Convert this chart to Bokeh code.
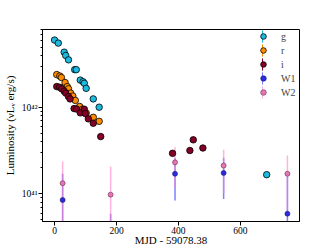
import numpy as np
from bokeh.plotting import figure
from bokeh.models import (Range1d, FixedTicker, CustomJSTickFormatter, Legend,
                          LegendItem, ColumnDataSource)
from bokeh.embed import file_html
from bokeh.resources import INLINE

# ---------------- data (MJD - 59078.38, luminosity erg/s) ----------------
g_t = [0, 12, 31, 36, 45, 65, 70, 83, 92, 96, 102, 125, 144, 685]
g_L = [6.05e42, 5.58e42, 4.38e42, 4.01e42, 3.57e42, 2.75e42, 2.75e42, 2.08e42,
       1.99e42, 1.91e42, 1.67e42, 1.26e42, 1.01e42, 1.67e41]
g_err = [0.0] * len(g_t)

r_t = [7, 17, 22, 34, 41, 45, 52, 59, 67, 81, 91, 102, 125, 144]
r_L = [2.41e42, 2.32e42, 2.23e42, 1.95e42, 1.75e42, 1.65e42, 1.47e42, 1.36e42,
       1.21e42, 1.03e42, 9.6e41, 8.64e41, 7.72e41, 6.93e41]
r_err = [0.0] * len(r_t)

i_t = [7, 16, 23, 31, 36, 45, 50, 63, 71, 83, 96, 99, 109, 125, 149,
       381, 437, 448, 479]
i_L = [1.75e42, 1.72e42, 1.65e42, 1.55e42, 1.47e42, 1.34e42, 1.26e42, 9.73e41,
       9.61e41, 8.69e41, 9.56e41, 8.51e41, 7.40e41, 6.58e41, 4.61e41,
       2.95e41, 3.18e41, 4.23e41, 3.40e41]
i_err = [0.0] * len(i_t)

w1_t = [26, 181, 389, 546, 752]
w1_L = [8.5e40, 3.0e40, 1.71e41, 1.75e41, 5.9e40]
w1_err = [8.6e40, 2.9e40, 8.7e40, 8.8e40, 1.0e41]

w2_t = [26, 181, 389, 546, 752]
w2_L = [1.33e41, 9.8e40, 2.32e41, 2.13e41, 1.71e41]
w2_err = [1.04e41, 1.09e41, 1.15e41, 1.11e41, 1.07e41]

x_ticks = [0, 200, 400, 600]
y_ticks = [1e41, 1e42]
x_label = "MJD - 59078.38"
y_label = "Luminosity (\u03bdL\u1d65 erg/s)"
names = ["g", "r", "i", "W1", "W2"]

FONT = "Liberation Serif"
C_G, C_R, C_I = "#1DB9DE", "#FF8C00", "#850026"
C_W1, C_W2 = "#2A2AE6", "#E874B4"
BAR_W1, BAR_W2 = "#3A3AFF", "#FF80C8"

p = figure(width=333, height=250, y_axis_type="log",
           x_range=Range1d(-39, 791), y_range=Range1d(4.79e40, 8.02e42),
           output_backend="svg", toolbar_location=None,
           min_border_left=41, min_border_right=34, min_border_top=29,
           min_border_bottom=29)
p.grid.visible = False
p.outline_line_color = "black"
p.outline_line_width = 1

FLOOR = 1e39


def bars(t, L, e):
    lo = [max(v - d, FLOOR) for v, d in zip(L, e)]
    hi = [v + d for v, d in zip(L, e)]
    return ColumnDataSource(dict(x=t, bottom=lo, top=hi))


bar_g = p.vbar(x="x", bottom="bottom", top="top", width=0,
               source=bars(g_t, g_L, g_err), fill_color=None,
               line_color=C_G, line_width=1.5)
bar_r = p.vbar(x="x", bottom="bottom", top="top", width=0,
               source=bars(r_t, r_L, r_err), fill_color=None,
               line_color=C_R, line_width=1.5)
bar_i = p.vbar(x="x", bottom="bottom", top="top", width=0,
               source=bars(i_t, i_L, i_err), fill_color=None,
               line_color=C_I, line_width=1.5)
bar_w1 = p.vbar(x="x", bottom="bottom", top="top", width=0,
                source=bars(w1_t, w1_L, w1_err), fill_color=None,
                line_color=BAR_W1, line_alpha=0.65, line_width=1.5)
bar_w2 = p.vbar(x="x", bottom="bottom", top="top", width=0,
                source=bars(w2_t, w2_L, w2_err), fill_color=None,
                line_color=BAR_W2, line_alpha=0.6, line_width=1.5)

pt_g = p.scatter(g_t, g_L, size=6.5, fill_color=C_G, line_color="black", line_width=0.8)
pt_r = p.scatter(r_t, r_L, size=6.5, fill_color=C_R, line_color="black", line_width=0.8)
pt_i = p.scatter(i_t, i_L, size=6.5, fill_color=C_I, line_color="black", line_width=0.8)
pt_w1 = p.scatter(w1_t, w1_L, size=5, fill_color=C_W1, line_color="#202060", line_width=0.6)
pt_w2 = p.scatter(w2_t, w2_L, size=5, fill_color=C_W2, line_color="#603050", line_width=0.6)

for ax in (p.xaxis[0], p.yaxis[0]):
    ax.axis_line_color = "black"
    ax.major_tick_line_color = "black"
    ax.minor_tick_line_color = "black"
    ax.major_tick_out = 4
    ax.major_tick_in = 0
    ax.minor_tick_out = 2
    ax.minor_tick_in = 0
    ax.major_label_text_font = FONT
    ax.major_label_text_font_size = "9.5px"
    ax.major_label_text_color = "black"
    ax.major_label_standoff = 1
    ax.axis_label_text_font = FONT
    ax.axis_label_text_font_size = "11px"
    ax.axis_label_text_font_style = "normal"
    ax.axis_label_text_color = "black"

p.xaxis.ticker = FixedTicker(ticks=x_ticks)
p.xaxis.minor_tick_line_color = None
p.xaxis.axis_label = x_label
p.xaxis.axis_label_standoff = -3

minor = [k * 10.0 ** n for n in (40, 41, 42) for k in range(2, 10)]
p.yaxis.ticker = FixedTicker(ticks=y_ticks, minor_ticks=minor)
p.yaxis.formatter = CustomJSTickFormatter(code="""
const e = Math.round(Math.log10(tick));
const sup = {"0":"\u2070","1":"\u00b9","2":"\u00b2","3":"\u00b3","4":"\u2074",
             "5":"\u2075","6":"\u2076","7":"\u2077","8":"\u2078","9":"\u2079","-":"\u207b"};
return "10" + String(e).split("").map(c => sup[c]).join("");
""")
p.yaxis.axis_label = y_label
p.yaxis.axis_label_standoff = 3

bar_rs = [bar_g, bar_r, bar_i, bar_w1, bar_w2]
pt_rs = [pt_g, pt_r, pt_i, pt_w1, pt_w2]

common = dict(location="top_right", margin=0, padding=6, spacing=0,
              label_height=14, glyph_height=14, label_width=18,
              background_fill_alpha=0, border_line_color=None,
              label_text_font=FONT, label_text_font_size="10px",
              label_text_baseline="middle")

leg_bars = Legend(items=[LegendItem(label=n, renderers=[r]) for n, r in zip(names, bar_rs)],
                  glyph_width=1, label_standoff=18, label_text_alpha=0, **common)
leg_pts = Legend(items=[LegendItem(label=n, renderers=[r]) for n, r in zip(names, pt_rs)],
                 glyph_width=14, label_standoff=11, **common)
p.add_layout(leg_bars)
p.add_layout(leg_pts)

open("out.html", "w").write(file_html(p, INLINE))
